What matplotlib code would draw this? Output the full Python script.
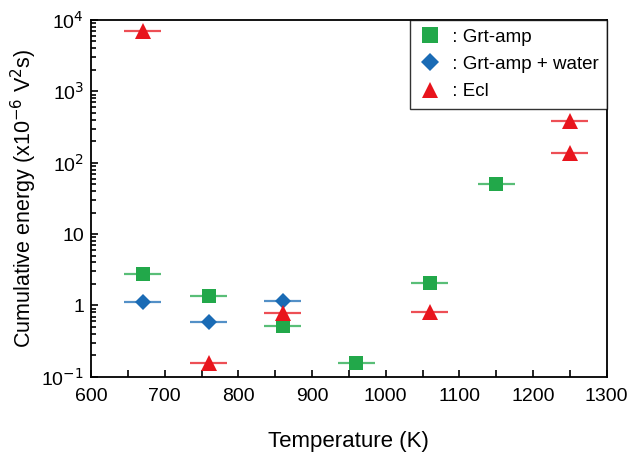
import matplotlib
matplotlib.use("Agg")
import matplotlib.pyplot as plt
from matplotlib.lines import Line2D
from matplotlib.ticker import FixedLocator, LogLocator, NullFormatter, MultipleLocator

plt.rcParams['font.family'] = ['Liberation Sans', 'DejaVu Sans']

# Data
grt_T = [670, 760, 860, 960, 1060, 1150]
grt_E = [2.8, 1.35, 0.52, 0.155, 2.05, 50]
wat_T = [670, 760, 860]
wat_E = [1.12, 0.58, 1.16]
ecl_T = [670, 760, 860, 1060, 1250, 1250]
ecl_E = [7000, 0.155, 0.78, 0.82, 390, 136]
T_err = 25

ytick_vals = [0.1, 1, 10, 100, 1000, 10000]
ytick_labels = ['10$^{-1}$', '1', '10', '10$^{2}$', '10$^{3}$', '10$^{4}$']

green = '#22a84a'
blue = '#1a6bb5'
red = '#e8141c'

fig = plt.figure(figsize=(6.32, 4.54), dpi=100)
ax = fig.add_axes([0.144, 0.170, 0.816, 0.786])

def plot_series(T, E, color, marker, ms, label):
    ax.errorbar(T, E, xerr=T_err, fmt='none', ecolor=color, elinewidth=1.6, capsize=0, alpha=0.75, zorder=2)
    ax.plot(T, E, linestyle='none', marker=marker, color=color, markersize=ms, markeredgewidth=0, zorder=3, label=label)

plot_series(grt_T, grt_E, green, 's', 10, ' : Grt-amp')
plot_series(wat_T, wat_E, blue, 'D', 8, ' : Grt-amp + water')
plot_series(ecl_T, ecl_E, red, '^', 11, ' : Ecl')

ax.set_yscale('log')
ax.set_xlim(600, 1300)
ax.set_ylim(0.1, 10000)
ax.xaxis.set_major_locator(MultipleLocator(100))
ax.xaxis.set_minor_locator(MultipleLocator(50))
ax.yaxis.set_major_locator(FixedLocator(ytick_vals))
ax.set_yticklabels(ytick_labels)
ax.yaxis.set_minor_locator(LogLocator(base=10, subs=range(2, 10)))
ax.yaxis.set_minor_formatter(NullFormatter())
ax.tick_params(which='both', direction='in', labelsize=14, width=1.2)
ax.tick_params(which='major', length=5)
ax.tick_params(axis='x', which='minor', length=5)
ax.tick_params(axis='y', which='minor', length=3.5)
ax.tick_params(axis='x', pad=8)
ax.tick_params(axis='y', pad=5)
for s in ax.spines.values():
    s.set_linewidth(1.3)

ax.set_xlabel('Temperature (K)', fontsize=16, labelpad=19)
ax.set_ylabel('Cumulative energy (x10$^{-6}$ V$^{2}$s)', fontsize=15.5, labelpad=2)

handles = [
    Line2D([], [], linestyle='none', marker='s', color=green, markersize=11, markeredgewidth=0),
    Line2D([], [], linestyle='none', marker='D', color=blue, markersize=9, markeredgewidth=0),
    Line2D([], [], linestyle='none', marker='^', color=red, markersize=12, markeredgewidth=0),
]
leg = ax.legend(handles, [' : Grt-amp', ' : Grt-amp + water', ' : Ecl'], loc='upper right',
                fontsize=13.5, frameon=True, fancybox=False, borderaxespad=0, handletextpad=0.3,
                borderpad=0.45, labelspacing=0.55, handlelength=1.2)
leg.get_frame().set_edgecolor('black')
leg.get_frame().set_linewidth(1.0)

fig.savefig('out.png', dpi=100)
